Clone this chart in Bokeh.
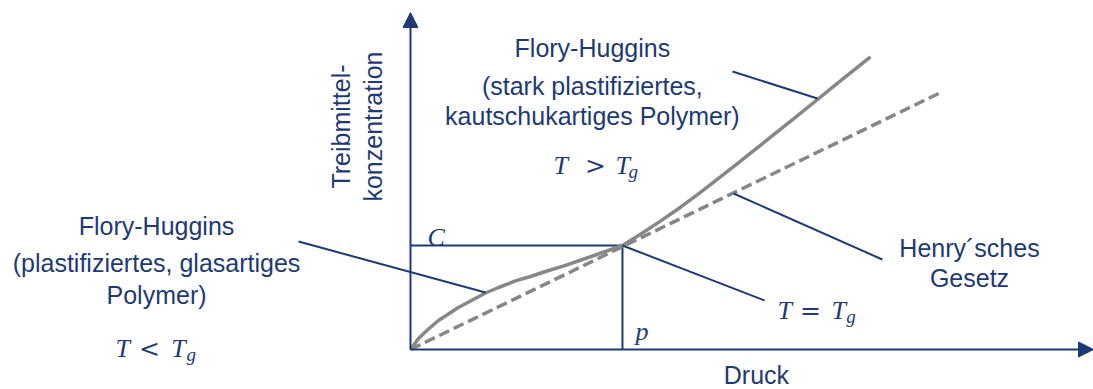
from math import pi

from bokeh.plotting import figure
from bokeh.models import Range1d, Arrow, NormalHead
from bokeh.core.properties import value
from bokeh.embed import file_html
from bokeh.resources import INLINE

NAVY = "#1F3A73"
GREY = "#878787"
SANS = value("Liberation Sans")
SERIF = value("Liberation Serif")

# Sorption isotherm (relative units: pressure p/p*, concentration C/C*)
fh_pressure = [0.0, 0.038, 0.085, 0.132, 0.179, 0.226, 0.292, 0.354, 0.415, 0.495,
               0.566, 0.637, 0.731, 0.825, 0.920, 1.0, 1.085, 1.179, 1.274, 1.368,
               1.462, 1.557, 1.604, 1.712, 1.807, 1.920, 2.028, 2.170]
fh_concentration = [0.0, 0.106, 0.197, 0.279, 0.341, 0.404, 0.476, 0.543, 0.596, 0.659,
                    0.702, 0.750, 0.808, 0.875, 0.942, 1.0, 1.109, 1.234, 1.368, 1.511,
                    1.659, 1.811, 1.888, 2.063, 2.217, 2.404, 2.582, 2.814]

# Henry's law (linear)
henry_pressure = [0.0, 2.51]
henry_concentration = [0.0, 2.48]

# Glass transition point (p, C)
tg_pressure = 1.0
tg_concentration = 1.0

p = figure(width=1093, height=389,
           x_range=Range1d(-1.934, 3.222), y_range=Range1d(-0.385, 3.356),
           output_backend="svg", toolbar_location=None,
           x_axis_location=None, y_axis_location=None, min_border=0)
p.grid.visible = False
p.outline_line_color = None

# axes with arrow heads
p.add_layout(Arrow(x_start=0, y_start=0, x_end=3.222, y_end=0,
                   line_color=NAVY, line_width=2,
                   end=NormalHead(size=15, fill_color=NAVY, line_color=NAVY)))
p.add_layout(Arrow(x_start=0, y_start=0, x_end=0, y_end=3.24,
                   line_color=NAVY, line_width=2,
                   end=NormalHead(size=15, fill_color=NAVY, line_color=NAVY)))

# guide lines to the transition point
p.line([0, tg_pressure], [tg_concentration, tg_concentration], line_color=NAVY, line_width=2)
p.line([tg_pressure, tg_pressure], [tg_concentration, 0], line_color=NAVY, line_width=2)

# curves
p.line(henry_pressure, henry_concentration, line_color=GREY, line_width=3.5, line_dash="11 5")
p.line(fh_pressure, fh_concentration, line_color=GREY, line_width=3.5, line_join="round")

# leader lines
p.segment(x0=[1.519, 1.524, 1.0, -0.528], y0=[2.673, 1.5, 1.0, 1.038],
          x1=[1.920, 2.226, 1.670, 0.354], y1=[2.413, 0.865, 0.471, 0.548],
          line_color=NAVY, line_width=2)

# sans labels
p.text(x=[0.858, 0.858, 0.858, -1.198, -1.198, -1.198, 2.637, 2.637, 1.632],
       y=[2.904, 2.538, 2.250, 1.192, 0.827, 0.519, 0.971, 0.683, -0.25],
       text=["Flory-Huggins", "(stark plastifiziertes,", "kautschukartiges Polymer)",
             "Flory-Huggins", "(plastifiziertes, glasartiges", "Polymer)",
             "Henry\u00b4sches", "Gesetz", "Druck"],
       text_font=SANS, text_font_size="25px", text_color=NAVY,
       text_align="center", text_baseline="middle")

# axis title (rotated)
p.text(x=[-0.330, -0.179], y=[2.144, 2.144], text=["Treibmittel-", "konzentration"],
       angle=pi / 2, text_font=SANS, text_font_size="25px", text_color=NAVY,
       text_align="center", text_baseline="middle")

# math labels: T (italic), relation (upright), T (italic), subscript g
p.text(x=[0.675, 0.967, -1.392, -1.128, 1.731, 1.986, 0.080, 1.061],
       y=[1.769, 1.769, 0.0096, 0.0096, 0.375, 0.375, 1.077, 0.173],
       text=["T", "T", "T", "T", "T", "T", "C", "p"],
       text_font=SERIF, text_font_style="italic", text_font_size="26px", text_color=NAVY,
       text_align="left", text_baseline="alphabetic")
p.text(x=[0.873, -1.231, 1.887], y=[1.769, 0.0096, 0.375], text=[">", "<", "="],
       text_font=value("DejaVu Serif"), text_font_size="25px", text_color=NAVY,
       text_align="center", text_baseline="alphabetic")
p.text(x=[1.028, -1.057, 2.056], y=[1.712, -0.048, 0.317], text=["g", "g", "g"],
       text_font=SERIF, text_font_style="italic", text_font_size="19px", text_color=NAVY,
       text_align="left", text_baseline="alphabetic")

open("out.html", "w").write(file_html(p, INLINE))
